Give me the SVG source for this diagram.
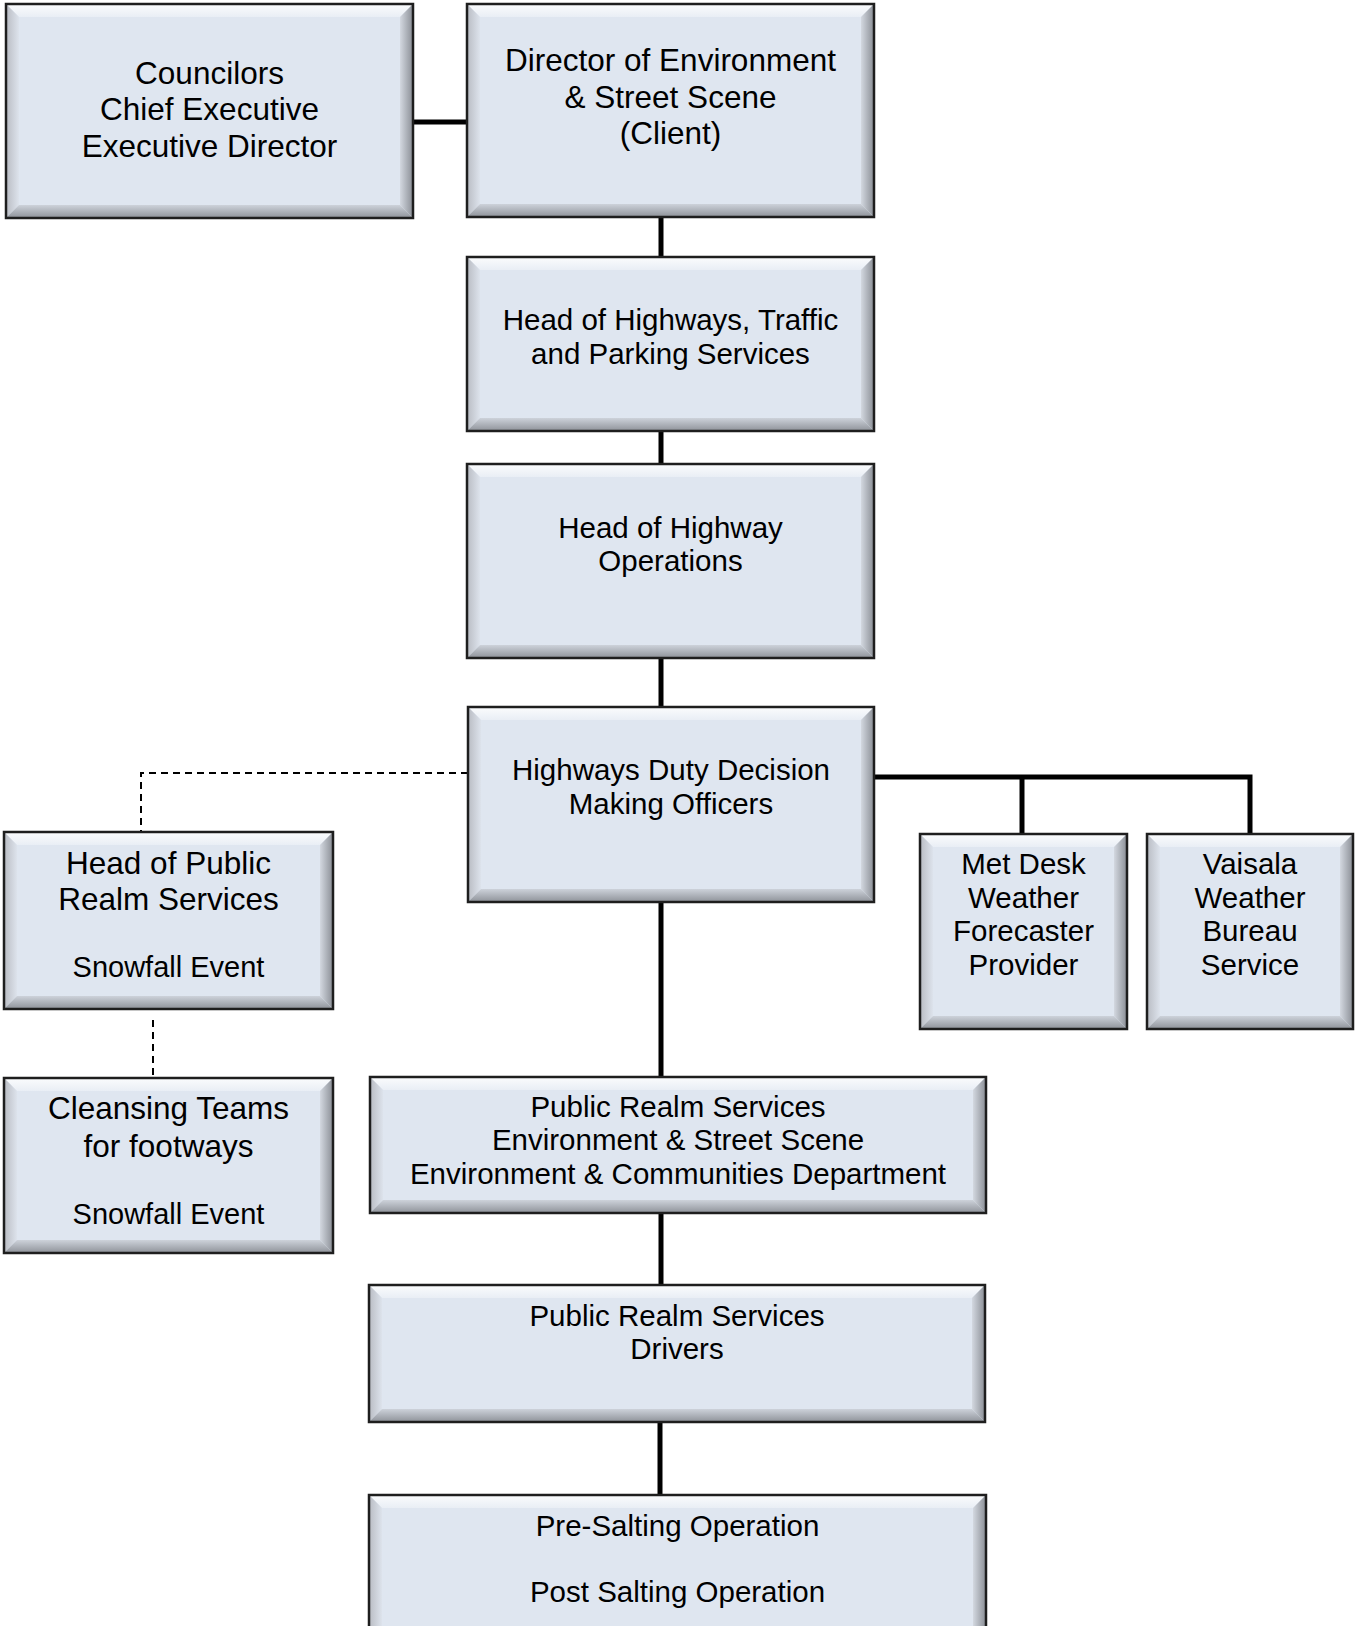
<svg xmlns="http://www.w3.org/2000/svg" width="1357" height="1626" viewBox="0 0 1357 1626">
<defs>
<linearGradient id="gTop" x1="0" y1="0" x2="0" y2="1"><stop offset="0" stop-color="#fbfcfd"/><stop offset="1" stop-color="#e9eef5"/></linearGradient>
<linearGradient id="gLeft" x1="0" y1="0" x2="1" y2="0"><stop offset="0" stop-color="#b9bcc3"/><stop offset="1" stop-color="#dde3ec"/></linearGradient>
<linearGradient id="gRight" x1="0" y1="0" x2="1" y2="0"><stop offset="0" stop-color="#d3d8e0"/><stop offset="1" stop-color="#8a8e95"/></linearGradient>
<linearGradient id="gBot" x1="0" y1="0" x2="0" y2="1"><stop offset="0" stop-color="#cdd2da"/><stop offset="1" stop-color="#8e9299"/></linearGradient>
</defs>
<style>
.face{fill:#dfe6f0}
.bt{fill:url(#gTop)}
.bl{fill:url(#gLeft)}
.br{fill:url(#gRight)}
.bb{fill:url(#gBot)}
.frame{fill:none;stroke:#1e1e1e;stroke-width:2.5}
text{font-family:"Liberation Sans",Arial,sans-serif;fill:#000;text-anchor:middle}
.t32{font-size:31.5px}
.t29{font-size:29.5px}
.t28{font-size:29px}
.conn{fill:none;stroke:#000;stroke-width:5}
.dash{fill:none;stroke:#000;stroke-width:2;stroke-dasharray:7 5}
</style>
<rect width="1357" height="1626" fill="#fff"/>

<g id="connectors">
<line class="conn" x1="413" y1="122" x2="467" y2="122"/>
<line class="conn" x1="661" y1="217" x2="661" y2="257"/>
<line class="conn" x1="661" y1="431" x2="661" y2="464"/>
<line class="conn" x1="661" y1="658" x2="661" y2="707"/>
<line class="conn" x1="661" y1="902" x2="661" y2="1077"/>
<line class="conn" x1="661" y1="1213" x2="661" y2="1285"/>
<line class="conn" x1="660" y1="1422" x2="660" y2="1495"/>
<path class="conn" d="M874,777 H1250 V834"/>
<path class="conn" d="M1022,777 V834"/>
<path class="dash" d="M468,773 H141 V832"/>
<path class="dash" d="M153,1020 V1078"/>
</g>

<g id="n-councilors">
<rect class="face" x="6" y="4" width="407" height="214"/>
<polygon class="bt" points="6,4 413,4 400,17 19,17"/>
<polygon class="bl" points="6,4 19,17 19,205 6,218"/>
<polygon class="br" points="413,4 413,218 400,205 400,17"/>
<polygon class="bb" points="6,218 19,205 400,205 413,218"/>
<rect class="frame" x="6" y="4" width="407" height="214"/>
<text class="t32" x="209.5" y="83.5">Councilors</text>
<text class="t32" x="209.5" y="120">Chief Executive</text>
<text class="t32" x="209.5" y="157">Executive Director</text>
</g>

<g id="n-director">
<rect class="face" x="467" y="4" width="407" height="213"/>
<polygon class="bt" points="467,4 874,4 861,17 480,17"/>
<polygon class="bl" points="467,4 480,17 480,204 467,217"/>
<polygon class="br" points="874,4 874,217 861,204 861,17"/>
<polygon class="bb" points="467,217 480,204 861,204 874,217"/>
<rect class="frame" x="467" y="4" width="407" height="213"/>
<text class="t32" x="670.5" y="71">Director of Environment</text>
<text class="t32" x="670.5" y="107.5">&amp; Street Scene</text>
<text class="t32" x="670.5" y="144">(Client)</text>
</g>

<g id="n-head-highways">
<rect class="face" x="467" y="257" width="407" height="174"/>
<polygon class="bt" points="467,257 874,257 861,270 480,270"/>
<polygon class="bl" points="467,257 480,270 480,418 467,431"/>
<polygon class="br" points="874,257 874,431 861,418 861,270"/>
<polygon class="bb" points="467,431 480,418 861,418 874,431"/>
<rect class="frame" x="467" y="257" width="407" height="174"/>
<text class="t29" x="670.5" y="329.5">Head of Highways, Traffic</text>
<text class="t29" x="670.5" y="364">and Parking Services</text>
</g>

<g id="n-head-operations">
<rect class="face" x="467" y="464" width="407" height="194"/>
<polygon class="bt" points="467,464 874,464 861,477 480,477"/>
<polygon class="bl" points="467,464 480,477 480,645 467,658"/>
<polygon class="br" points="874,464 874,658 861,645 861,477"/>
<polygon class="bb" points="467,658 480,645 861,645 874,658"/>
<rect class="frame" x="467" y="464" width="407" height="194"/>
<text class="t29" x="670.5" y="538">Head of Highway</text>
<text class="t29" x="670.5" y="571">Operations</text>
</g>

<g id="n-duty">
<rect class="face" x="468" y="707" width="406" height="195"/>
<polygon class="bt" points="468,707 874,707 861,720 481,720"/>
<polygon class="bl" points="468,707 481,720 481,889 468,902"/>
<polygon class="br" points="874,707 874,902 861,889 861,720"/>
<polygon class="bb" points="468,902 481,889 861,889 874,902"/>
<rect class="frame" x="468" y="707" width="406" height="195"/>
<text class="t29" x="671" y="779.5">Highways Duty Decision</text>
<text class="t29" x="671" y="814">Making Officers</text>
</g>

<g id="n-public-realm-head">
<rect class="face" x="4" y="832" width="329" height="177"/>
<polygon class="bt" points="4,832 333,832 320,845 17,845"/>
<polygon class="bl" points="4,832 17,845 17,996 4,1009"/>
<polygon class="br" points="333,832 333,1009 320,996 320,845"/>
<polygon class="bb" points="4,1009 17,996 320,996 333,1009"/>
<rect class="frame" x="4" y="832" width="329" height="177"/>
<text class="t32" x="168.5" y="873.5">Head of Public</text>
<text class="t32" x="168.5" y="910">Realm Services</text>
<text class="t28" x="168.5" y="977">Snowfall Event</text>
</g>

<g id="n-met-desk">
<rect class="face" x="920" y="834" width="207" height="195"/>
<polygon class="bt" points="920,834 1127,834 1114,847 933,847"/>
<polygon class="bl" points="920,834 933,847 933,1016 920,1029"/>
<polygon class="br" points="1127,834 1127,1029 1114,1016 1114,847"/>
<polygon class="bb" points="920,1029 933,1016 1114,1016 1127,1029"/>
<rect class="frame" x="920" y="834" width="207" height="195"/>
<text class="t29" x="1023.5" y="874">Met Desk</text>
<text class="t29" x="1023.5" y="907.5">Weather</text>
<text class="t29" x="1023.5" y="941">Forecaster</text>
<text class="t29" x="1023.5" y="974.5">Provider</text>
</g>

<g id="n-vaisala">
<rect class="face" x="1147" y="834" width="206" height="195"/>
<polygon class="bt" points="1147,834 1353,834 1340,847 1160,847"/>
<polygon class="bl" points="1147,834 1160,847 1160,1016 1147,1029"/>
<polygon class="br" points="1353,834 1353,1029 1340,1016 1340,847"/>
<polygon class="bb" points="1147,1029 1160,1016 1340,1016 1353,1029"/>
<rect class="frame" x="1147" y="834" width="206" height="195"/>
<text class="t29" x="1250" y="874">Vaisala</text>
<text class="t29" x="1250" y="907.5">Weather</text>
<text class="t29" x="1250" y="941">Bureau</text>
<text class="t29" x="1250" y="974.5">Service</text>
</g>

<g id="n-cleansing">
<rect class="face" x="4" y="1078" width="329" height="175"/>
<polygon class="bt" points="4,1078 333,1078 320,1091 17,1091"/>
<polygon class="bl" points="4,1078 17,1091 17,1240 4,1253"/>
<polygon class="br" points="333,1078 333,1253 320,1240 320,1091"/>
<polygon class="bb" points="4,1253 17,1240 320,1240 333,1253"/>
<rect class="frame" x="4" y="1078" width="329" height="175"/>
<text class="t32" x="168.5" y="1119">Cleansing Teams</text>
<text class="t32" x="168.5" y="1156.5">for footways</text>
<text class="t28" x="168.5" y="1224">Snowfall Event</text>
</g>

<g id="n-public-realm-services">
<rect class="face" x="370" y="1077" width="616" height="136"/>
<polygon class="bt" points="370,1077 986,1077 973,1090 383,1090"/>
<polygon class="bl" points="370,1077 383,1090 383,1200 370,1213"/>
<polygon class="br" points="986,1077 986,1213 973,1200 973,1090"/>
<polygon class="bb" points="370,1213 383,1200 973,1200 986,1213"/>
<rect class="frame" x="370" y="1077" width="616" height="136"/>
<text class="t29" x="678" y="1116.5">Public Realm Services</text>
<text class="t29" x="678" y="1149.5">Environment &amp; Street Scene</text>
<text class="t29" x="678" y="1183.5">Environment &amp; Communities Department</text>
</g>

<g id="n-drivers">
<rect class="face" x="369" y="1285" width="616" height="137"/>
<polygon class="bt" points="369,1285 985,1285 972,1298 382,1298"/>
<polygon class="bl" points="369,1285 382,1298 382,1409 369,1422"/>
<polygon class="br" points="985,1285 985,1422 972,1409 972,1298"/>
<polygon class="bb" points="369,1422 382,1409 972,1409 985,1422"/>
<rect class="frame" x="369" y="1285" width="616" height="137"/>
<text class="t29" x="677" y="1326">Public Realm Services</text>
<text class="t29" x="677" y="1359">Drivers</text>
</g>

<g id="n-salting">
<rect class="face" x="369" y="1495" width="617" height="150"/>
<polygon class="bt" points="369,1495 986,1495 973,1508 382,1508"/>
<polygon class="bl" points="369,1495 382,1508 382,1632 369,1645"/>
<polygon class="br" points="986,1495 986,1645 973,1632 973,1508"/>
<rect class="frame" x="369" y="1495" width="617" height="150"/>
<text class="t29" x="677.5" y="1535.5">Pre-Salting Operation</text>
<text class="t29" x="677.5" y="1601.5">Post Salting Operation</text>
</g>
</svg>
